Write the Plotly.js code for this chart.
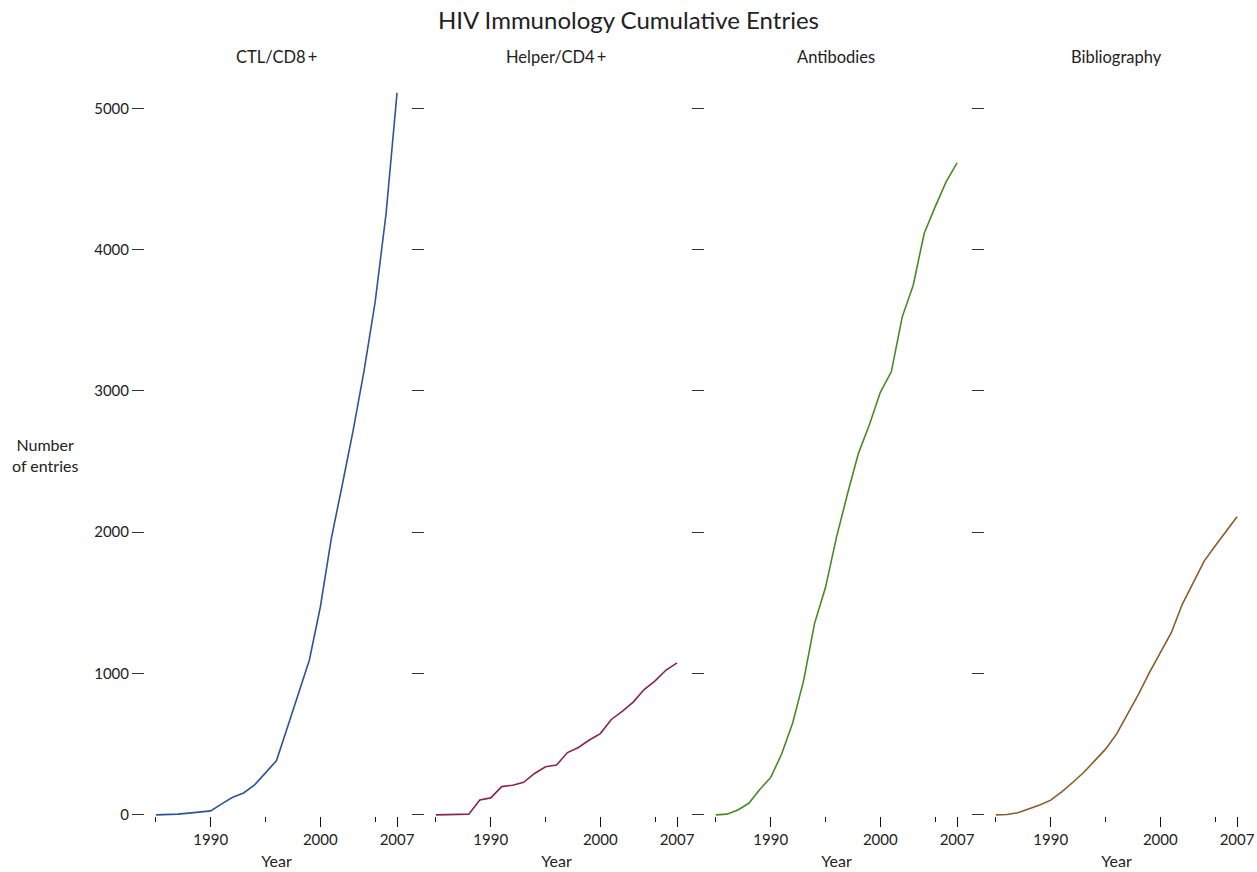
<!DOCTYPE html>
<html>
<head>
<meta charset="utf-8">
<script src="https://cdn.plot.ly/plotly-3.0.1.min.js"></script>
<style>body{margin:0;background:#fff;} #chart{width:1257px;height:872px;}</style>
</head>
<body>
<div id="chart"></div>
<script>
var years = [1985,1986,1987,1988,1989,1990,1991,1992,1993,1994,1995,1996,1997,1998,1999,2000,2001,2002,2003,2004,2005,2006,2007];
var ctlCd8 = [0,2,5,12,22,28,78,125,155,212,297,384,620,865,1096,1471,1955,2334,2723,3147,3628,4255,5110];
var helperCd4 = [0,0,2,5,106,120,200,210,230,293,340,352,441,477,530,575,675,732,798,887,948,1025,1075];
var antibodies = [0,5,35,82,180,265,432,650,950,1355,1610,1965,2270,2558,2760,2990,3135,3524,3748,4114,4302,4479,4613];
var bibliography = [0,3,15,40,70,104,163,229,300,382,465,571,712,853,1006,1148,1289,1490,1643,1796,1902,2008,2109];

var panelTitles = ["CTL/CD8\u2009+", "Helper/CD4\u2009+", "Antibodies", "Bibliography"];
var seriesList = [ctlCd8, helperCd4, antibodies, bibliography];
var colors = ["#2f5492", "#862650", "#4a8a26", "#8a5c28"];
var majorTicks = [1990, 2000, 2007];
var minorTicks = [1985, 1995, 2005];
var yTicks = [0, 1000, 2000, 3000, 4000, 5000];

var W = 1257, H = 872, T = 80, B = 56;
var PH = H - T - B;
var FONT = "Lato, 'Open Sans', sans-serif";
var traces = [];
var layout = {
  width: W, height: H,
  margin: {l: 0, r: 0, t: T, b: B},
  paper_bgcolor: "#fff", plot_bgcolor: "#fff",
  showlegend: false,
  font: {family: FONT, size: 15, color: "#222"},
  title: {text: "HIV Immunology Cumulative Entries", x: 0.5, xanchor: "center", y: 1 - 21 / H, yanchor: "middle",
          font: {size: 24, family: FONT, color: "#222"}},
  annotations: []
};

for (var i = 0; i < 4; i++) {
  var sfx = i === 0 ? "" : String(i + 1);
  var left = 145 + 280 * i;
  var right = left + 263;
  traces.push({
    x: years, y: seriesList[i], type: "scatter", mode: "lines",
    line: {color: colors[i], width: 1.6},
    xaxis: "x" + sfx, yaxis: "y" + sfx, hoverinfo: "x+y"
  });
  layout["xaxis" + sfx] = {
    domain: [left / W, right / W],
    range: [1984, 2008],
    anchor: "y" + sfx,
    tickmode: "array", tickvals: majorTicks, ticktext: majorTicks.map(String),
    ticks: "outside", ticklen: 10, tickwidth: 1, tickcolor: "#111",
    minor: {tickmode: "array", tickvals: minorTicks, ticks: "outside", ticklen: 5, tickwidth: 1, tickcolor: "#111", showgrid: false},
    showline: false, showgrid: false, zeroline: false, automargin: false,
    tickfont: {size: 15, family: FONT, color: "#222"},
    title: {text: "Year", standoff: 8, font: {size: 16, family: FONT, color: "#222"}},
    fixedrange: true
  };
  layout["yaxis" + sfx] = {
    domain: [0, 1],
    range: [-8, 5200],
    anchor: "x" + sfx,
    tickmode: "array", tickvals: yTicks, ticktext: yTicks.map(String),
    showticklabels: i === 0,
    ticks: "outside", ticklen: 12, tickwidth: 1, tickcolor: "#333",
    showline: false, showgrid: false, zeroline: false, automargin: false,
    tickfont: {size: 15, family: FONT, color: "#222"},
    fixedrange: true
  };
  layout.annotations.push({
    text: panelTitles[i], xref: "paper", yref: "paper",
    x: (left + 131) / W, y: (H - B - 57) / PH, xanchor: "center", yanchor: "middle",
    showarrow: false,
    font: {size: 16.5, family: FONT, color: "#222"}
  });
}
layout.annotations.push({
  text: "Number<br>of entries", xref: "paper", yref: "paper",
  x: 45 / W, y: (H - B - 455) / PH, xanchor: "center", yanchor: "middle",
  showarrow: false, align: "center",
  font: {size: 16, family: FONT, color: "#222"}
});

Plotly.newPlot("chart", traces, layout, {displayModeBar: false, staticPlot: true});
</script>
</body>
</html>
